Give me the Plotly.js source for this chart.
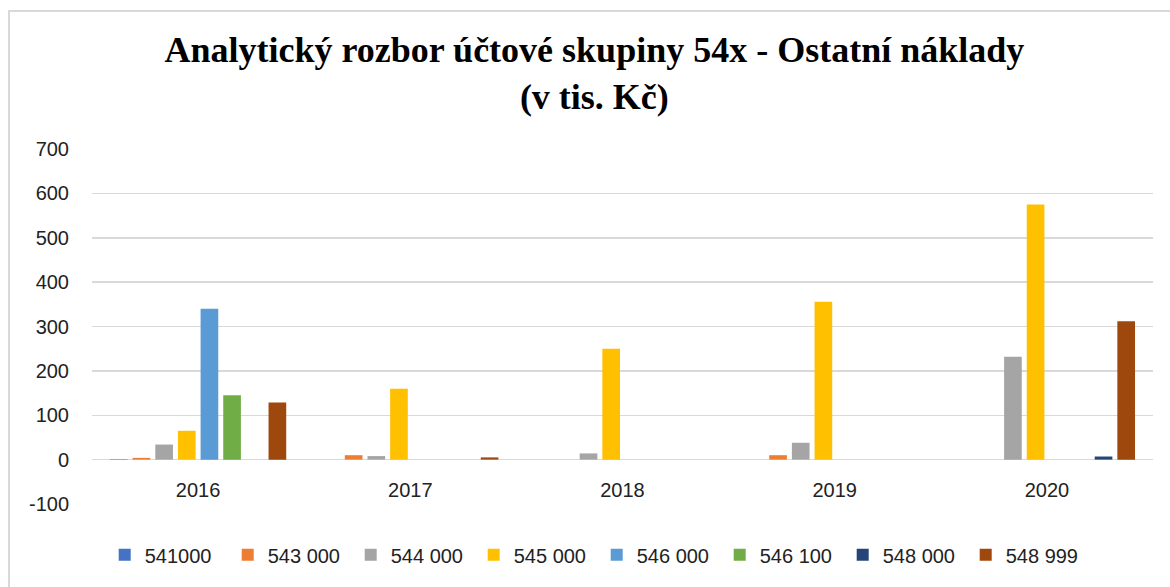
<!DOCTYPE html>
<html>
<head>
<meta charset="utf-8">
<script src="https://cdn.plot.ly/plotly-3.0.1.min.js"></script>
<style>
  html, body { margin: 0; padding: 0; background: #fff; }
  #wrap { position: relative; width: 1170px; height: 587px; overflow: hidden; }
  #frame { position: absolute; left: 8px; top: 10px; width: 1200px; height: 620px; border: 2px solid #d9d9d9; box-sizing: border-box; pointer-events: none; z-index: 5; }
  #chart { position: absolute; left: 0; top: 0; width: 1170px; height: 587px; }
</style>
</head>
<body>
<div id="wrap">
  <div id="chart"></div>
  <div id="frame"></div>
</div>
<script>
const years = ['2016', '2017', '2018', '2019', '2020'];
const seriesNames = ['541000', '543 000', '544 000', '545 000', '546 000', '546 100', '548 000', '548 999'];
const s541000 = [1, null, null, null, null];
const s543000 = [4, 10, null, 10, null];
const s544000 = [34, 8, 14, 38, 232];
const s545000 = [65, 160, 250, 356, 575];
const s546000 = [340, null, null, null, null];
const s546100 = [145, null, null, null, null];
const s548000 = [null, null, null, null, 7];
const s548999 = [129, 5, null, null, 312];
const seriesValues = [s541000, s543000, s544000, s545000, s546000, s546100, s548000, s548999];
const colors = ['#4472C4', '#ED7D31', '#A5A5A5', '#FFC000', '#5B9BD5', '#70AD47', '#264478', '#9E480E'];
const yTicks = [-100, 0, 100, 200, 300, 400, 500, 600, 700];

const traces = seriesNames.map((name, i) => ({
  type: 'bar',
  name: name,
  x: years,
  y: seriesValues[i],
  marker: { color: colors[i], line: { width: 0 } },
  hoverinfo: 'x+y+name'
}));

const yMin = -100, yMax = 700;
const layout = {
  width: 1170,
  height: 587,
  margin: { l: 92, r: 17, t: 149, b: 83 },
  paper_bgcolor: '#ffffff',
  plot_bgcolor: '#ffffff',
  barmode: 'group',
  bargap: 0.146,
  bargroupgap: 0.22,
  title: {
    text: '<b>Analytický rozbor účtové skupiny 54x - Ostatní náklady</b><br><b>(v tis. Kč)</b>',
    font: { family: 'Liberation Serif, Times New Roman, serif', size: 36, color: '#000' },
    x: 0.508,
    xanchor: 'center',
    xref: 'container',
    y: 1 - 62 / 587,
    yanchor: 'top',
    yref: 'container'
  },
  xaxis: {
    type: 'category',
    anchor: 'free',
    position: (0 - yMin) / (yMax - yMin),
    showgrid: false,
    showline: false,
    zeroline: false,
    ticks: '',
    ticklabelstandoff: 16,
    tickfont: { family: 'Liberation Sans, Arial, sans-serif', size: 20, color: '#222' }
  },
  yaxis: {
    range: [yMin, yMax],
    tickvals: yTicks,
    ticktext: yTicks.map(String),
    showgrid: true,
    gridcolor: '#d9d9d9',
    gridwidth: 1.5,
    zeroline: true,
    zerolinecolor: '#d9d9d9',
    zerolinewidth: 1.5,
    showline: false,
    ticks: '',
    ticklabelstandoff: 22,
    tickfont: { family: 'Liberation Sans, Arial, sans-serif', size: 20, color: '#222' }
  },
  showlegend: true,
  legend: {
    orientation: 'h',
    x: 0.51,
    xanchor: 'center',
    xref: 'container',
    y: 0.055,
    yanchor: 'middle',
    yref: 'container',
    entrywidth: 78,
    entrywidthmode: 'pixels',
    itemwidth: 30,
    font: { family: 'Liberation Sans, Arial, sans-serif', size: 20, color: '#222' },
    bgcolor: 'rgba(0,0,0,0)'
  }
};

Plotly.newPlot('chart', traces, layout, { displayModeBar: false, staticPlot: true });
</script>
</body>
</html>
